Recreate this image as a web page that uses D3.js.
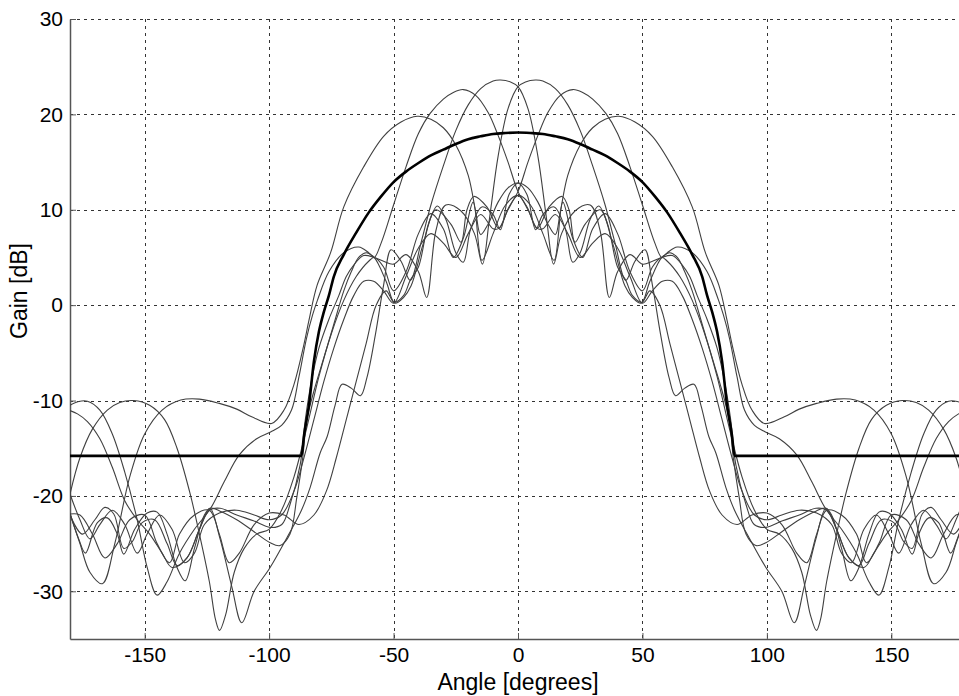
<!DOCTYPE html>
<html>
<head>
<meta charset="utf-8">
<script src="https://cdn.jsdelivr.net/npm/d3@7"></script>
<style>
  body { margin: 0; background: #fff; }
  text { font-family: Arial, "Liberation Sans", Helvetica, sans-serif; }
</style>
</head>
<body>
<div id="chart"></div>
<script>
// tick labels
const angleTicks = [-150, -100, -50, 0, 50, 100, 150];
const gainTicks = [-30, -20, -10, 0, 10, 20, 30];

// thick envelope, [angle, gain]
const envelope = [
  [-180, -15.8], [-87, -15.8], [-86, -13.7], [-84, -10.5], [-82, -5.9], [-80, -2.8],
  [-78, -0.7], [-76, 1.0], [-74, 3.0], [-70, 5.3], [-65, 7.6], [-60, 9.7], [-55, 11.4],
  [-50, 12.9], [-45, 14.0], [-40, 14.9], [-35, 15.7], [-30, 16.3], [-25, 16.9],
  [-20, 17.4], [-15, 17.7], [-10, 17.95], [-5, 18.05], [0, 18.1],
  [5, 18.05], [10, 17.95], [15, 17.7], [20, 17.4], [25, 16.9], [30, 16.3], [35, 15.7],
  [40, 14.9], [45, 14.0], [50, 12.9], [55, 11.4], [60, 9.7], [65, 7.6], [70, 5.3],
  [74, 3.0], [76, 1.0], [78, -0.7], [80, -2.8], [82, -5.9], [84, -10.5], [86, -13.7],
  [87, -15.8], [180, -15.8]
];

// thin beam curves, left half only (-180..0); the right half is the mirror image.
// pairs (a, b): beam a continues across 0 into the mirror of b.
const beamL1 = [ // peak near -7
  [-180, -21.8], [-176.5, -24.5], [-173.8, -26], [-169, -22.8], [-165, -22.3], [-161, -24],
  [-158.4, -26.1], [-154, -23.5], [-149, -21.8], [-145, -21.7], [-141, -24], [-137, -27.5],
  [-133.7, -28.9], [-130, -25.5], [-126, -22], [-123.7, -21.3], [-119.7, -24.5], [-115, -29.5],
  [-111, -33.3], [-106, -30], [-99.6, -27.5], [-92.9, -24.4], [-87, -21.5], [-83.5, -19.1],
  [-79.5, -15.5], [-76.7, -13.8], [-73.5, -10.5], [-70.7, -8.3], [-67, -8.7], [-63.3, -9.5],
  [-60.7, -7.6], [-57.3, -3.1], [-54, 2.1], [-51, 5.8], [-47, 4.6], [-43.3, 2.6], [-39, 6.5],
  [-35, 10.5], [-30, 14.6], [-25, 18.3], [-20, 21], [-15, 22.7], [-10, 23.5], [-7, 23.6],
  [-3, 23.4], [0, 22.9]
];
const beamR1 = [ // left tail of the beam peaking near +7
  [-180, -22], [-175, -24], [-170, -22.5], [-166, -21.2], [-162.4, -21.9], [-158.4, -25.5],
  [-155, -24.8], [-151, -22.8], [-146, -22.5], [-141, -25], [-137, -27.3], [-133, -26.5],
  [-128, -23.5], [-124, -21.5], [-119.7, -21.3], [-113, -22], [-106.3, -22.6], [-99.6, -23.3],
  [-94.9, -23], [-91.6, -20.9], [-87.5, -16.7], [-85.5, -12.1], [-83, -8], [-80, -4.5],
  [-76, -1.5], [-72, 1], [-69, 3], [-66, 4.2], [-62, 5.2], [-57.8, 5.0], [-54, 4.6],
  [-50, 4.3], [-45, 5.3], [-40, 3.5], [-36.7, 0.8], [-33, 7.8], [-29, 10.5], [-23, 9.9],
  [-17.5, 7.5], [-14.3, 4.3], [-11.5, 9], [-8, 15.6], [-4, 20.6], [0, 22.9]
];
const beamL2 = [ // peak near -22
  [-180, -10.5], [-176.5, -10.1], [-173, -10.07], [-168, -11], [-163, -13.5], [-158, -17.5],
  [-153, -22.5], [-149, -27.5], [-145, -30.4], [-141, -29], [-136, -26], [-130, -23.5],
  [-123.5, -21.3], [-118, -18.5], [-112, -15.7], [-105, -14], [-99.4, -13.3], [-95, -12.6],
  [-91, -11], [-88, -7.5], [-85, -3.5], [-82.5, -1], [-80.6, 0.5], [-76, 3.5], [-70, 5.5],
  [-64, 6.1], [-60, 5.5], [-57.8, 5.0], [-55, 6.5], [-50, 10.5], [-45, 14.5], [-40, 18],
  [-35.3, 20.1], [-30, 21.6], [-26, 22.3], [-22, 22.6], [-17, 22], [-12, 20.2], [-8, 17.8],
  [-4, 15], [0, 11.9]
];
const beamR2 = [ // left tail of the beam peaking near +22
  [-180, -11.05], [-177, -11.4], [-173, -12.2], [-168, -14], [-163, -17], [-158, -20.5],
  [-153, -22.5], [-148, -24], [-143, -26], [-139, -27.5], [-133, -26.5], [-128, -23.5],
  [-123.7, -21.3], [-119.7, -21.6], [-113, -22.5], [-106.3, -23.7], [-99.6, -24.9],
  [-95.6, -25.2], [-91.6, -24], [-88.9, -20.2], [-86.5, -16], [-84.9, -12.1], [-82, -9],
  [-78, -5.5], [-74, -2], [-70, 1.5], [-67, 3.5], [-64, 5], [-61, 5.5], [-57.8, 5.0],
  [-53, 2.5], [-49.5, 0.2], [-46, 0.8], [-43, 2], [-38, 6.5], [-33, 10], [-27, 8.5],
  [-22.9, 6.6], [-20.5, 10], [-17.7, 11.4], [-12.5, 10.3], [-7.7, 8.05], [-3.8, 10.2],
  [0, 11.9]
];
const beamL3 = [ // peak near -40
  [-180, -21.9], [-176, -25], [-172, -28], [-167, -29.2], [-162, -25], [-156, -18],
  [-150, -13.5], [-143, -11], [-135.5, -9.95], [-128, -9.85], [-120, -10.3], [-113, -10.9],
  [-107, -11.7], [-99, -12.4], [-94, -11], [-90, -8.3], [-86, -4.1], [-84, -1.6],
  [-80.7, 2.1], [-75.3, 5.5], [-70, 10.3], [-62, 14.5], [-54, 17.7], [-47, 19.2],
  [-40.5, 19.8], [-35, 19.5], [-30, 18.6], [-25, 16.8], [-20, 13.6], [-17, 9.8],
  [-15, 7.4], [-12, 8.5], [-8, 10.8], [-4, 12.3], [0, 12.8]
];
const beamR3 = [ // left tail of the beam peaking near +40
  [-180, -21.9], [-176, -22], [-171, -24], [-166, -26.5], [-161, -25], [-156, -22.5],
  [-150, -22], [-145, -25], [-140, -27], [-136, -24], [-130, -22], [-124, -21.5],
  [-120, -24], [-116, -27], [-112, -26], [-106, -23], [-100, -21.8], [-94, -22],
  [-88, -23], [-82, -22], [-77, -19.5], [-73, -16], [-69, -12], [-65, -8], [-61, -4],
  [-57, 0], [-53, 1.5], [-49.8, 0.3], [-46, 1], [-43.3, 2.6], [-40, 4], [-36, 8.5],
  [-32.4, 10.4], [-29, 9], [-25, 5.5], [-22, 4.5], [-19, 8], [-14.5, 10.3], [-10, 9.5],
  [-7.1, 7.9], [-3.6, 11.6], [0, 12.8]
];
const beamL4 = [ // outermost beam, left
  [-180, -19.8], [-176, -16], [-171, -13], [-165, -11], [-160, -10.2], [-154.4, -10],
  [-148, -10.5], [-142, -12], [-137, -15], [-132, -19.5], [-128, -24], [-124, -29],
  [-121.5, -33], [-119.9, -34.1], [-117.5, -32.5], [-114, -28], [-110, -25.5], [-105, -24],
  [-100, -23.5], [-95, -21.5], [-90, -18], [-85, -13], [-80, -7.5], [-75, -3], [-70, 0.5],
  [-65, 3], [-60, 4.6], [-57.8, 5.0], [-54, 4], [-50, 1.5], [-45, 3.5], [-40, 7.5],
  [-35, 9.6], [-30, 8], [-26, 5], [-22, 7], [-18, 10.8], [-14.5, 4.7], [-10, 7.5],
  [-5, 10.5], [0, 11.5]
];
const beamR4 = [ // outermost beam, right side seen on the left
  [-180, -19.8], [-176, -22.5], [-172, -24.5], [-168, -23], [-163, -21.5], [-158, -23],
  [-153, -26], [-149, -24], [-144, -22], [-139, -23.5], [-134, -27], [-130, -26],
  [-126, -23], [-120, -21.8], [-113, -21.5], [-106, -22], [-100, -22.5], [-95, -22],
  [-90, -19.5], [-86, -16], [-82, -12], [-78, -8], [-74, -4.5], [-70, -1.5], [-66, 1],
  [-62, 2.5], [-58, 2.5], [-54, 1.5], [-50, 0.2], [-45, 3], [-40, 6], [-35, 7.5],
  [-30, 6.5], [-25, 5], [-20, 7.5], [-15, 9.5], [-10, 8], [-7.7, 8.05], [-4, 10],
  [0, 11.5]
];

const width = 959, height = 696;
const x = d3.scaleLinear().domain([-180, 180]).range([70, 966]);
const y = d3.scaleLinear().domain([-35, 30]).range([639, 19]);

const svg = d3.select("#chart").append("svg")
  .attr("width", width)
  .attr("height", height);

svg.append("defs").append("clipPath").attr("id", "plot-clip")
  .append("rect")
  .attr("x", 70).attr("y", 19)
  .attr("width", 896).attr("height", 620);

// grid
const grid = svg.append("g").attr("stroke", "#333").attr("stroke-width", 1)
  .attr("stroke-dasharray", "3,4").attr("shape-rendering", "crispEdges");
grid.selectAll("line.vgrid").data(angleTicks).join("line")
  .attr("class", "vgrid")
  .attr("x1", d => Math.round(x(d)) + 0.5).attr("x2", d => Math.round(x(d)) + 0.5)
  .attr("y1", 19).attr("y2", 639);
grid.selectAll("line.hgrid").data(gainTicks).join("line")
  .attr("class", "hgrid")
  .attr("x1", 70).attr("x2", 966)
  .attr("y1", d => Math.round(y(d)) + 0.5).attr("y2", d => Math.round(y(d)) + 0.5);

// axes (plain hyphen minus like the original)
const fmt = d => String(d);
const xAxis = d3.axisBottom(x).tickValues(angleTicks).tickFormat(fmt)
  .tickSizeInner(-6).tickSizeOuter(0).tickPadding(8);
const yAxis = d3.axisLeft(y).tickValues(gainTicks).tickFormat(fmt)
  .tickSizeInner(-6).tickSizeOuter(0).tickPadding(7);

const gx = svg.append("g").attr("transform", "translate(0,639)").call(xAxis);
const gy = svg.append("g").attr("transform", "translate(70,0)").call(yAxis);
[gx, gy].forEach(g => {
  g.select(".domain").attr("stroke", "#555").attr("stroke-width", 1.5);
  g.selectAll(".tick line").attr("stroke", "#555");
  g.selectAll("text").attr("font-size", 21).attr("fill", "#000")
    .attr("font-family", "Arial, 'Liberation Sans', sans-serif");
});

// curves
const line = d3.line()
  .x(d => x(d[0]))
  .y(d => y(d[1]))
  .curve(d3.curveCatmullRom.alpha(0.5));

const mirror = arr => arr.map(d => [-d[0], d[1]]).reverse();
const join = (a, b) => a.concat(mirror(b).slice(1));
const pairs = [[beamL1, beamR1], [beamL2, beamR2], [beamL3, beamR3], [beamL4, beamR4]];
const allBeams = [];
pairs.forEach(([a, b]) => {
  allBeams.push(join(a, b));
  allBeams.push(join(b, a));
});

const plot = svg.append("g").attr("clip-path", "url(#plot-clip)");
plot.selectAll("path.beam").data(allBeams).join("path")
  .attr("class", "beam")
  .attr("d", line)
  .attr("fill", "none")
  .attr("stroke", "#404040")
  .attr("stroke-width", 1.1);

plot.append("path")
  .datum(envelope)
  .attr("d", d3.line().x(d => x(d[0])).y(d => y(d[1])).curve(d3.curveMonotoneX))
  .attr("fill", "none")
  .attr("stroke", "#000")
  .attr("stroke-width", 2.6);

// axis titles
svg.append("text")
  .attr("x", 518).attr("y", 690)
  .attr("text-anchor", "middle")
  .attr("font-size", 23)
  .text("Angle [degrees]");
svg.append("text")
  .attr("transform", "translate(27,291) rotate(-90)")
  .attr("text-anchor", "middle")
  .attr("font-size", 23)
  .text("Gain [dB]");
</script>
</body>
</html>
